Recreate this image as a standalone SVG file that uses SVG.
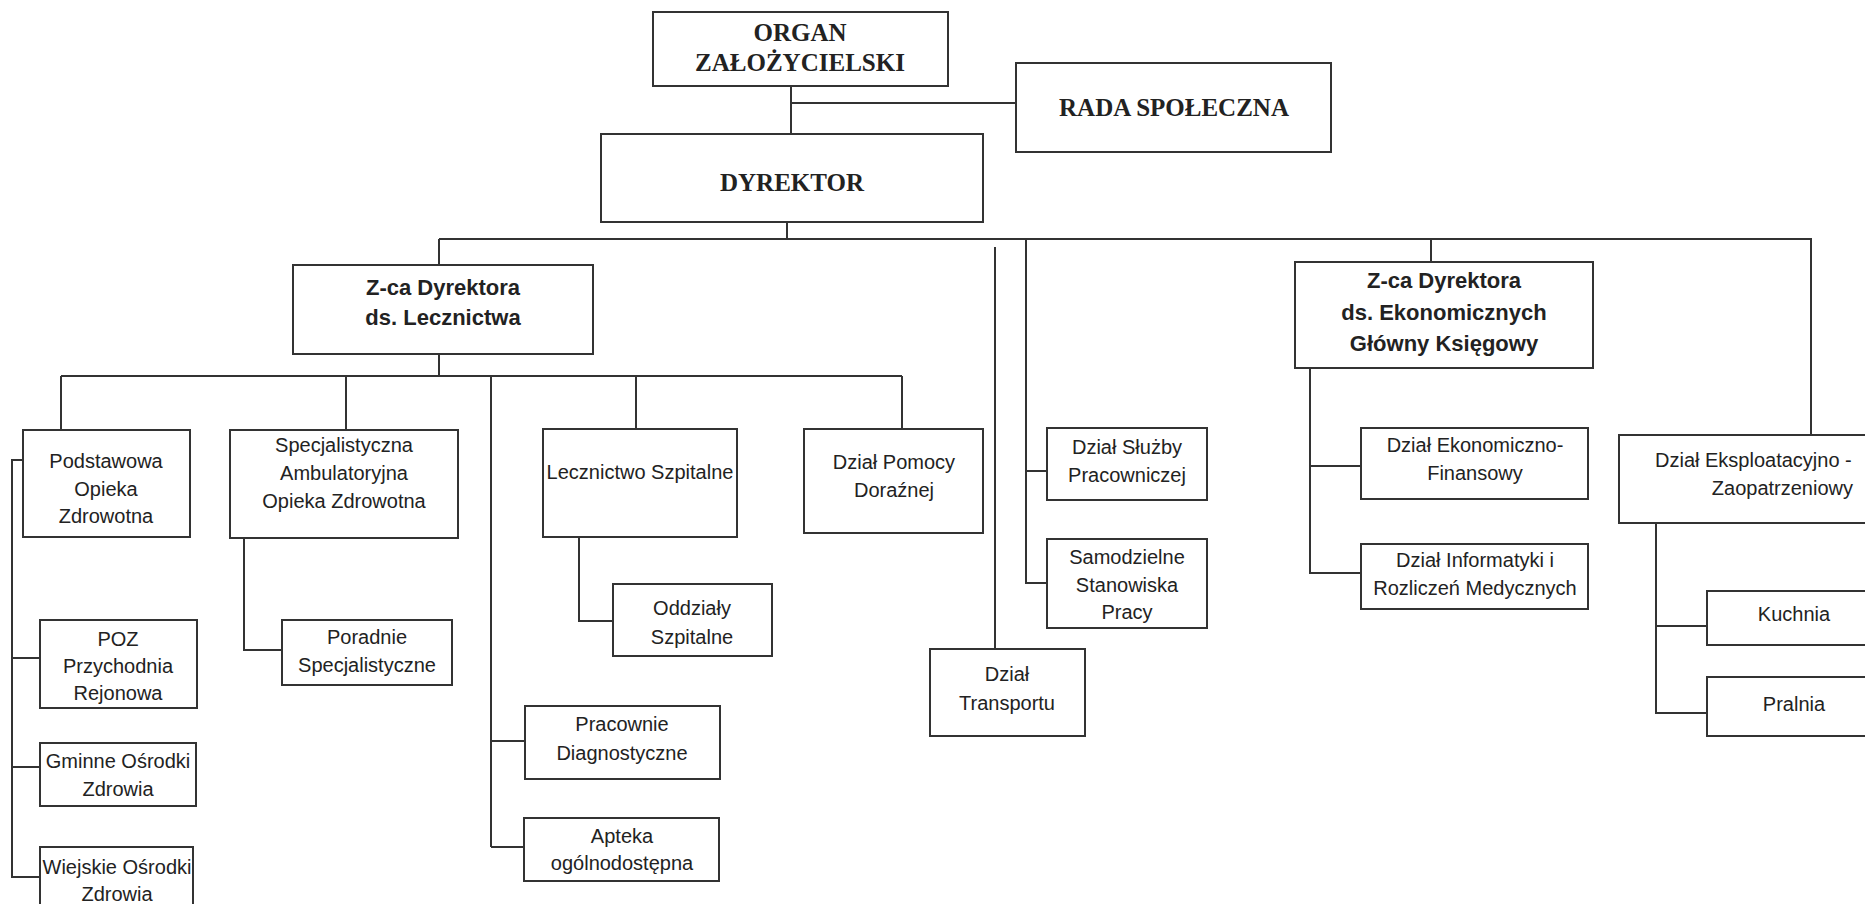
<svg xmlns="http://www.w3.org/2000/svg" width="1865" height="904" viewBox="0 0 1865 904">
<style>
.box{fill:#fff;stroke:#333;stroke-width:2}
.ln{fill:none;stroke:#333;stroke-width:2}
.t{font-family:"Liberation Sans",Arial,sans-serif;font-size:20px;fill:#222;text-anchor:middle}
.b{font-family:"Liberation Sans",Arial,sans-serif;font-size:22px;font-weight:bold;fill:#222;text-anchor:middle}
.s{font-family:"Liberation Serif","Times New Roman",serif;font-size:25px;font-weight:bold;fill:#222;text-anchor:middle}
</style>
<rect x="0" y="0" width="1865" height="904" fill="#fff"/>
<g id="connectors">
<path class="ln" d="M791,86V134M791,103H1016M787,222V239M439,239H1811V435M439,239V265M1431,239V262M1026,239V583H1047M1026,471H1047M995,247V649"/>
<path class="ln" d="M439,354V376M61,376H902M61,376V430M346,376V430M491,376V847M636,376V429M902,376V429M491,741H525M491,847H524"/>
<path class="ln" d="M23,460H12V877H40M12,658H40M12,767H40"/>
<path class="ln" d="M244,538V650H282M579,537V621H613"/>
<path class="ln" d="M1310,368V573H1361M1310,466H1361M1656,523V713H1707M1656,626H1707"/>
</g>
<g id="organ"><rect class="box" x="653" y="12" width="295" height="74"/><text class="s" x="800" y="41">ORGAN</text><text class="s" x="800" y="71">ZAŁOŻYCIELSKI</text></g>
<g id="rada"><rect class="box" x="1016" y="63" width="315" height="89"/><text class="s" x="1174" y="116">RADA SPOŁECZNA</text></g>
<g id="dyrektor"><rect class="box" x="601" y="134" width="382" height="88"/><text class="s" x="792" y="191">DYREKTOR</text></g>
<g id="zca-lecz"><rect class="box" x="293" y="265" width="300" height="89"/><text class="b" x="443" y="295">Z-ca Dyrektora</text><text class="b" x="443" y="325">ds. Lecznictwa</text></g>
<g id="podstawowa"><rect class="box" x="23" y="430" width="167" height="107"/><text class="t" x="106" y="468">Podstawowa</text><text class="t" x="106" y="496">Opieka</text><text class="t" x="106" y="523">Zdrowotna</text></g>
<g id="poz"><rect class="box" x="40" y="620" width="157" height="88"/><text class="t" x="118" y="646">POZ</text><text class="t" x="118" y="673">Przychodnia</text><text class="t" x="118" y="700">Rejonowa</text></g>
<g id="gminne"><rect class="box" x="40" y="743" width="156" height="63"/><text class="t" x="118" y="768">Gminne Ośrodki</text><text class="t" x="118" y="796">Zdrowia</text></g>
<g id="wiejskie"><rect class="box" x="40" y="847" width="153" height="80"/><text class="t" x="117" y="874">Wiejskie Ośrodki</text><text class="t" x="117" y="901">Zdrowia</text></g>
<g id="specjalistyczna"><rect class="box" x="230" y="430" width="228" height="108"/><text class="t" x="344" y="452">Specjalistyczna</text><text class="t" x="344" y="480">Ambulatoryjna</text><text class="t" x="344" y="508">Opieka Zdrowotna</text></g>
<g id="poradnie"><rect class="box" x="282" y="620" width="170" height="65"/><text class="t" x="367" y="644">Poradnie</text><text class="t" x="367" y="672">Specjalistyczne</text></g>
<g id="lecznictwo"><rect class="box" x="543" y="429" width="194" height="108"/><text class="t" x="640" y="479">Lecznictwo Szpitalne</text></g>
<g id="oddzialy"><rect class="box" x="613" y="584" width="159" height="72"/><text class="t" x="692" y="615">Oddziały</text><text class="t" x="692" y="644">Szpitalne</text></g>
<g id="pracownie"><rect class="box" x="525" y="706" width="195" height="73"/><text class="t" x="622" y="731">Pracownie</text><text class="t" x="622" y="760">Diagnostyczne</text></g>
<g id="apteka"><rect class="box" x="524" y="818" width="195" height="63"/><text class="t" x="622" y="843">Apteka</text><text class="t" x="622" y="870">ogólnodostępna</text></g>
<g id="pomocy"><rect class="box" x="804" y="429" width="179" height="104"/><text class="t" x="894" y="469">Dział Pomocy</text><text class="t" x="894" y="497">Doraźnej</text></g>
<g id="transport"><rect class="box" x="930" y="649" width="155" height="87"/><text class="t" x="1007" y="681">Dział</text><text class="t" x="1007" y="710">Transportu</text></g>
<g id="sluzby"><rect class="box" x="1047" y="428" width="160" height="72"/><text class="t" x="1127" y="454">Dział Służby</text><text class="t" x="1127" y="482">Pracowniczej</text></g>
<g id="samodzielne"><rect class="box" x="1047" y="539" width="160" height="89"/><text class="t" x="1127" y="564">Samodzielne</text><text class="t" x="1127" y="592">Stanowiska</text><text class="t" x="1127" y="619">Pracy</text></g>
<g id="zca-ekon"><rect class="box" x="1295" y="262" width="298" height="106"/><text class="b" x="1444" y="288">Z-ca Dyrektora</text><text class="b" x="1444" y="320">ds. Ekonomicznych</text><text class="b" x="1444" y="351">Główny Księgowy</text></g>
<g id="ekfin"><rect class="box" x="1361" y="428" width="227" height="71"/><text class="t" x="1475" y="452">Dział Ekonomiczno-</text><text class="t" x="1475" y="480">Finansowy</text></g>
<g id="informatyki"><rect class="box" x="1361" y="544" width="227" height="65"/><text class="t" x="1475" y="567">Dział Informatyki i</text><text class="t" x="1475" y="595">Rozliczeń Medycznych</text></g>
<g id="eksploat"><rect class="box" x="1619" y="435" width="260" height="88"/><text class="t" x="1655" y="467" style="text-anchor:start">Dział Eksploatacyjno -</text><text class="t" x="1853" y="495" style="text-anchor:end">Zaopatrzeniowy</text></g>
<g id="kuchnia"><rect class="box" x="1707" y="591" width="180" height="54"/><text class="t" x="1794" y="621">Kuchnia</text></g>
<g id="pralnia"><rect class="box" x="1707" y="677" width="180" height="59"/><text class="t" x="1794" y="711">Pralnia</text></g>
</svg>
